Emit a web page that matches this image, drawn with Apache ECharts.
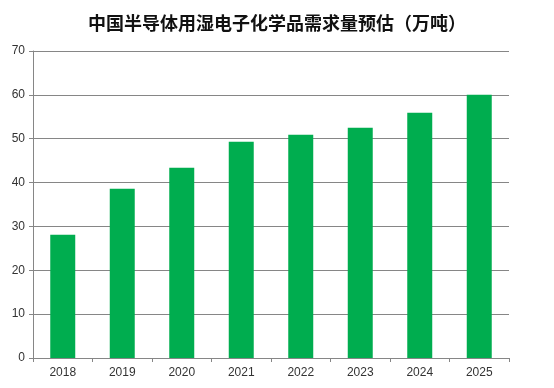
<!DOCTYPE html>
<html><head><meta charset="utf-8">
<script src="https://cdn.jsdelivr.net/npm/echarts@6/dist/echarts.min.js"></script>
<style>html,body{margin:0;padding:0;background:#fff}#c{width:554px;height:388px}</style>
</head><body><div id="c"></div>
<script>
const titleText = '中国半导体用湿电子化学品需求量预估（万吨）';
const categories = ['2018','2019','2020','2021','2022','2023','2024','2025'];
const demand = [28.1, 38.6, 43.4, 49.3, 50.9, 52.5, 55.9, 60.0];

const chart = echarts.init(document.getElementById('c'), null, {renderer:'canvas'});
chart.setOption({
  animation:false,
  backgroundColor:'#fff',
  title:{text:titleText,left:'center',top:9,
    textStyle:{fontFamily:'Noto Sans CJK SC',fontSize:18,fontWeight:'bold',color:'#111'}},
  grid:{left:33,right:45,top:51,bottom:30,containLabel:false},
  xAxis:{type:'category',data:categories,boundaryGap:true,
    axisLine:{lineStyle:{color:'#868686',width:1}},
    axisTick:{show:true,length:4,alignWithLabel:false,lineStyle:{color:'#868686'}},
    axisLabel:{color:'#333',fontSize:12,fontFamily:'Liberation Sans',margin:9}},
  yAxis:{type:'value',min:0,max:70,interval:10,
    axisLine:{show:true,lineStyle:{color:'#868686',width:1}},
    axisTick:{show:true,length:4,lineStyle:{color:'#868686'}},
    splitLine:{lineStyle:{color:'#868686',width:1}},
    axisLabel:{color:'#333',fontSize:12,fontFamily:'Liberation Sans',margin:8}},
  series:[{type:'bar',data:demand,barWidth:'42%',itemStyle:{color:'#00AD4F'}}]
});
</script></body></html>
